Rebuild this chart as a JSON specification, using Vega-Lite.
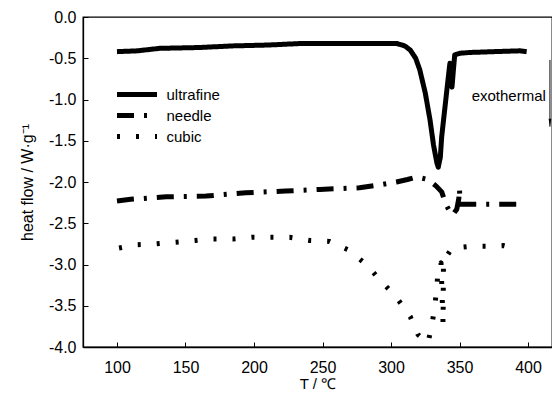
{
  "$schema": "https://vega.github.io/schema/vega-lite/v6.json",
  "width": 469,
  "height": 330,
  "autosize": {"type": "none"},
  "padding": {"left": 83, "top": 17, "right": 0, "bottom": 47},
  "background": "white",
  "config": {
    "view": {"stroke": "black", "strokeWidth": 1.3},
    "font": "Liberation Sans",
    "axis": {
      "domainColor": "black", "domainWidth": 1.3,
      "tickColor": "black", "tickWidth": 1, "tickSize": -5,
      "labelColor": "black", "titleColor": "black",
      "labelFont": "Liberation Sans", "labelFontSize": 16,
      "titleFont": "Liberation Sans", "titleFontWeight": "normal",
      "grid": false
    }
  },
  "datasets": {
    "curves": [
      {"series": "ultrafine", "i": 1, "T": 100, "v": -0.42},
      {"series": "ultrafine", "i": 2, "T": 115, "v": -0.41},
      {"series": "ultrafine", "i": 3, "T": 131, "v": -0.38},
      {"series": "ultrafine", "i": 4, "T": 160, "v": -0.37},
      {"series": "ultrafine", "i": 5, "T": 185, "v": -0.35},
      {"series": "ultrafine", "i": 6, "T": 210, "v": -0.34},
      {"series": "ultrafine", "i": 7, "T": 236, "v": -0.32},
      {"series": "ultrafine", "i": 8, "T": 260, "v": -0.32},
      {"series": "ultrafine", "i": 9, "T": 290, "v": -0.32},
      {"series": "ultrafine", "i": 10, "T": 304, "v": -0.32},
      {"series": "ultrafine", "i": 11, "T": 310, "v": -0.35},
      {"series": "ultrafine", "i": 12, "T": 314, "v": -0.40},
      {"series": "ultrafine", "i": 13, "T": 318, "v": -0.50},
      {"series": "ultrafine", "i": 14, "T": 321, "v": -0.64},
      {"series": "ultrafine", "i": 15, "T": 325, "v": -0.92},
      {"series": "ultrafine", "i": 16, "T": 328.5, "v": -1.25},
      {"series": "ultrafine", "i": 17, "T": 331, "v": -1.55},
      {"series": "ultrafine", "i": 18, "T": 333.5, "v": -1.77},
      {"series": "ultrafine", "i": 19, "T": 334.5, "v": -1.82},
      {"series": "ultrafine", "i": 20, "T": 336, "v": -1.70},
      {"series": "ultrafine", "i": 21, "T": 337, "v": -1.45},
      {"series": "ultrafine", "i": 22, "T": 339, "v": -1.15},
      {"series": "ultrafine", "i": 23, "T": 341, "v": -0.85},
      {"series": "ultrafine", "i": 24, "T": 343, "v": -0.56},
      {"series": "ultrafine", "i": 25, "T": 344, "v": -0.65},
      {"series": "ultrafine", "i": 26, "T": 344.5, "v": -0.85},
      {"series": "ultrafine", "i": 27, "T": 345.5, "v": -0.65},
      {"series": "ultrafine", "i": 28, "T": 346.5, "v": -0.46},
      {"series": "ultrafine", "i": 29, "T": 350, "v": -0.44},
      {"series": "ultrafine", "i": 30, "T": 357.5, "v": -0.43},
      {"series": "ultrafine", "i": 31, "T": 375, "v": -0.42},
      {"series": "ultrafine", "i": 32, "T": 394, "v": -0.41},
      {"series": "ultrafine", "i": 33, "T": 399, "v": -0.42},
      {"series": "needle", "i": 1, "T": 100, "v": -2.23},
      {"series": "needle", "i": 2, "T": 110, "v": -2.21},
      {"series": "needle", "i": 3, "T": 136, "v": -2.18},
      {"series": "needle", "i": 4, "T": 165, "v": -2.17},
      {"series": "needle", "i": 5, "T": 194, "v": -2.13},
      {"series": "needle", "i": 6, "T": 223, "v": -2.11},
      {"series": "needle", "i": 7, "T": 248, "v": -2.09},
      {"series": "needle", "i": 8, "T": 277, "v": -2.07},
      {"series": "needle", "i": 9, "T": 290, "v": -2.04},
      {"series": "needle", "i": 10, "T": 304, "v": -2.00},
      {"series": "needle", "i": 11, "T": 312, "v": -1.97},
      {"series": "needle", "i": 12, "T": 319, "v": -1.94},
      {"series": "needle", "i": 13, "T": 327, "v": -1.97},
      {"series": "needle", "i": 14, "T": 333, "v": -2.05},
      {"series": "needle", "i": 15, "T": 337, "v": -2.12},
      {"series": "needle", "i": 16, "T": 340, "v": -2.27},
      {"series": "needle", "i": 17, "T": 343, "v": -2.36},
      {"series": "needle", "i": 18, "T": 345, "v": -2.40},
      {"series": "needle", "i": 19, "T": 348, "v": -2.33},
      {"series": "needle", "i": 20, "T": 349.5, "v": -2.20},
      {"series": "needle", "i": 21, "T": 350, "v": -2.08},
      {"series": "needle", "i": 22, "T": 350.3, "v": -2.27},
      {"series": "needle", "i": 23, "T": 360, "v": -2.27},
      {"series": "needle", "i": 24, "T": 392, "v": -2.27},
      {"series": "cubic", "i": 1, "T": 101.5, "v": -2.80},
      {"series": "cubic", "i": 2, "T": 114.6, "v": -2.76},
      {"series": "cubic", "i": 3, "T": 128.5, "v": -2.75},
      {"series": "cubic", "i": 4, "T": 142, "v": -2.73},
      {"series": "cubic", "i": 5, "T": 157, "v": -2.71},
      {"series": "cubic", "i": 6, "T": 170, "v": -2.69},
      {"series": "cubic", "i": 7, "T": 185, "v": -2.69},
      {"series": "cubic", "i": 8, "T": 198.5, "v": -2.67},
      {"series": "cubic", "i": 9, "T": 212, "v": -2.67},
      {"series": "cubic", "i": 10, "T": 226, "v": -2.67},
      {"series": "cubic", "i": 11, "T": 241, "v": -2.71},
      {"series": "cubic", "i": 12, "T": 255, "v": -2.72},
      {"series": "cubic", "i": 13, "T": 268.6, "v": -2.82},
      {"series": "cubic", "i": 14, "T": 282, "v": -3.00},
      {"series": "cubic", "i": 15, "T": 292.7, "v": -3.20},
      {"series": "cubic", "i": 16, "T": 304, "v": -3.40},
      {"series": "cubic", "i": 17, "T": 314, "v": -3.63},
      {"series": "cubic", "i": 18, "T": 319.7, "v": -3.85},
      {"series": "cubic", "i": 19, "T": 327, "v": -3.95},
      {"series": "cubic", "i": 20, "T": 330, "v": -3.72},
      {"series": "cubic", "i": 21, "T": 332, "v": -3.50},
      {"series": "cubic", "i": 22, "T": 333.5, "v": -3.27},
      {"series": "cubic", "i": 23, "T": 334.5, "v": -3.02},
      {"series": "cubic", "i": 24, "T": 336.5, "v": -2.98},
      {"series": "cubic", "i": 25, "T": 338, "v": -3.72},
      {"series": "cubic", "i": 26, "T": 338.3, "v": -2.96},
      {"series": "cubic", "i": 27, "T": 344.5, "v": -2.80},
      {"series": "cubic", "i": 28, "T": 358, "v": -2.78},
      {"series": "cubic", "i": 29, "T": 372, "v": -2.78},
      {"series": "cubic", "i": 30, "T": 382, "v": -2.77},
      {"series": "cubic", "i": 31, "T": 394, "v": -2.82}
    ],
    "note": [{"label": "exothermal", "T": 413, "v": -0.96, "T2": 416, "top": -0.52, "bottom": -1.33}]
  },
  "layer": [
    {
      "data": {"name": "curves"},
      "mark": {"type": "line", "color": "black", "strokeWidth": 5, "strokeCap": "butt", "strokeJoin": "round"},
      "encoding": {
        "x": {
          "field": "T", "type": "quantitative",
          "scale": {"domain": [75.2, 417.5], "nice": false, "zero": false},
          "axis": {
            "values": [100, 125, 150, 175, 200, 225, 250, 275, 300, 325, 350, 375, 400],
            "labelExpr": "datum.value % 50 == 0 ? datum.label : ''",
            "labelPadding": 17,
            "title": "T / ℃", "titleFontSize": 15, "titlePadding": 1
          }
        },
        "y": {
          "field": "v", "type": "quantitative",
          "scale": {"domain": [-4, 0], "nice": false, "zero": false},
          "axis": {
            "values": [-4, -3.75, -3.5, -3.25, -3, -2.75, -2.5, -2.25, -2, -1.75, -1.5, -1.25, -1, -0.75, -0.5, -0.25, 0],
            "labelExpr": "abs(datum.value * 2 - round(datum.value * 2)) < 0.01 ? replace(format(datum.value, '.1f'), '−', '-') : ''",
            "labelPadding": 12,
            "title": "heat flow / W·g⁻¹", "titleFontSize": 16, "titlePadding": 13
          }
        },
        "order": {"field": "i", "type": "quantitative"},
        "strokeDash": {
          "field": "series", "type": "nominal",
          "scale": {"domain": ["ultrafine", "needle", "cubic"], "range": [[1, 0], [17, 10, 3, 10], [3, 16]]},
          "legend": {
            "title": null, "orient": "none", "legendX": 31.5, "legendY": 67,
            "symbolType": "M-1,0H4", "symbolSize": 256, "symbolStrokeWidth": 5,
            "symbolStrokeColor": "black", "labelOffset": 31,
            "labelFont": "Liberation Sans", "labelFontSize": 15, "labelColor": "black",
            "rowPadding": 0
          }
        }
      }
    },
    {
      "data": {"name": "note"},
      "mark": {"type": "text", "align": "right", "baseline": "middle", "font": "Liberation Sans", "fontSize": 15, "color": "black"},
      "encoding": {
        "x": {"field": "T", "type": "quantitative"},
        "y": {"field": "v", "type": "quantitative"},
        "text": {"field": "label"}
      }
    },
    {
      "data": {"name": "note"},
      "mark": {"type": "rule", "color": "black", "strokeWidth": 1},
      "encoding": {
        "x": {"field": "T2", "type": "quantitative"},
        "y": {"field": "top", "type": "quantitative"},
        "y2": {"field": "bottom"}
      }
    },
    {
      "data": {"name": "note"},
      "mark": {"type": "point", "shape": "M-0.35,-1L0,1L0.35,-1Z", "size": 60, "filled": true, "color": "black", "opacity": 1, "yOffset": -4},
      "encoding": {
        "x": {"field": "T2", "type": "quantitative"},
        "y": {"field": "bottom", "type": "quantitative"}
      }
    }
  ]
}
